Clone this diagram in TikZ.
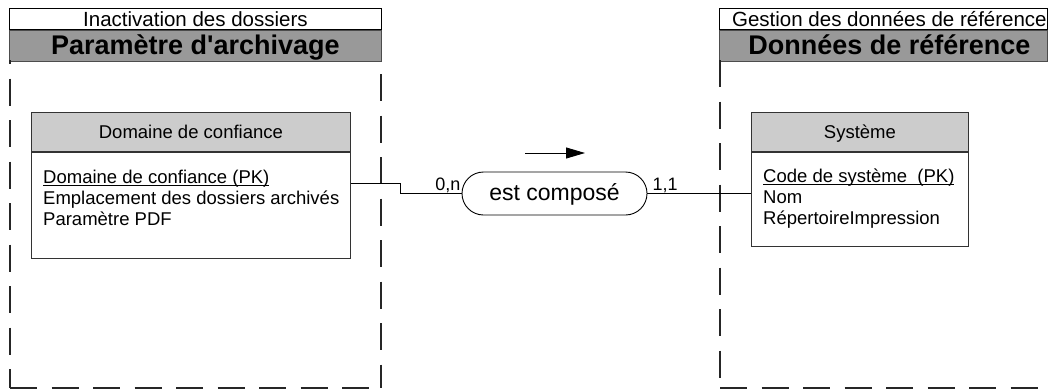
\documentclass[tikz,border=0pt]{standalone}
\usepackage{fontspec}
\setmainfont{Liberation Sans}[Ligatures=TeXOff]
\usetikzlibrary{arrows.meta}
\usetikzlibrary{positioning}
\definecolor{bandgray}{RGB}{153,153,153}
\definecolor{headgray}{RGB}{204,204,204}
\newcommand{\keyattr}[1]{\setbox0\hbox{#1}\rlap{\rule[-2.5pt]{\wd0}{0.9pt}}\box0}
\tikzstyle{pkgtitle} = [draw=black, fill=white, line width=0.8pt, inner sep=0pt,
    text height=15pt, text depth=0pt, font=\fontsize{20.5}{24}\selectfont]
\tikzstyle{pkgband} = [draw=black!70, fill=bandgray, line width=0.8pt, inner sep=0pt,
    text height=17pt, text depth=0pt, font=\fontsize{27}{30}\selectfont\bfseries]
\tikzstyle{pkgframe} = [line width=1.4pt, black!85, dash pattern=on 27pt off 14.5pt]
\tikzstyle{enthead} = [draw=black!80, fill=headgray, line width=0.8pt, inner sep=0pt,
    text height=13pt, text depth=0pt, font=\fontsize{18.5}{21}\selectfont]
\tikzstyle{entbody} = [draw=black!80, fill=white, line width=0.8pt, inner sep=0pt]
\tikzstyle{attr} = [inner sep=0pt, anchor=base west, font=\fontsize{18.5}{21}\selectfont]
\tikzstyle{assoc} = [draw=black, line width=0.9pt, rounded corners=21.5pt, inner sep=0pt,
    minimum width=185pt, minimum height=43pt, text height=13pt, text depth=0pt,
    font=\fontsize{23}{26}\selectfont]
\tikzstyle{card} = [inner sep=0pt, font=\fontsize{18}{21}\selectfont]
\tikzstyle{link} = [line width=0.8pt]
\tikzstyle{dirarrow} = [line width=0.9pt, -{Triangle[length=19pt,width=11pt]}]

\begin{document}
\begin{tikzpicture}[x=1pt,y=-1pt]
\useasboundingbox (0,0) rectangle (1050,391);

% package Parametre d'archivage
\node[pkgtitle, minimum width=372pt, minimum height=21pt, anchor=north west] (archtitle) at (9,8) {Inactivation des dossiers};
\node[pkgband, minimum width=372pt, minimum height=31pt, anchor=north west] (archband) at (archtitle.south west) {Param\`etre d'archivage};
\draw[pkgframe, dash phase=23pt] (10,60) -- (10,388);
\draw[pkgframe] (10,388) -- (381,388);
\draw[pkgframe, dash phase=27.5pt] (381,60) -- (381,388);

% package Donnees de reference
\node[pkgtitle, minimum width=328pt, minimum height=21pt, anchor=north west] (reftitle) at (719,8) {\hspace*{12pt}Gestion des donn\'ees de r\'ef\'erence};
\node[pkgband, minimum width=328pt, minimum height=31pt, anchor=north west] (refband) at (reftitle.south west) {\hspace*{12pt}Donn\'ees de r\'ef\'erence};
\draw[pkgframe] (720,60) -- (720,388);
\draw[pkgframe] (720,388) -- (1050,388);

% entite Domaine de confiance
\node[enthead, minimum width=319pt, minimum height=39pt, anchor=north west] (domhead) at (31,112) {Domaine de confiance};
\node[entbody, minimum width=319pt, minimum height=106pt, anchor=north west] (dombody) at (domhead.south west) {};
\node[attr] (dompk) at ([xshift=12pt,yshift=-32pt]dombody.north west) {\keyattr{Domaine de confiance (PK)}};
\node[attr] (domloc) at ([yshift=-21pt]dompk.base west) {Emplacement des dossiers archiv\'es};
\node[attr] (dompdf) at ([yshift=-21pt]domloc.base west) {Param\`etre PDF};

% entite Systeme
\node[enthead, minimum width=217pt, minimum height=39pt, anchor=north west] (syshead) at (751,112) {Syst\`eme};
\node[entbody, minimum width=217pt, minimum height=94pt, anchor=north west] (sysbody) at (syshead.south west) {};
\node[attr] (syspk) at ([xshift=12pt,yshift=-31pt]sysbody.north west) {\keyattr{Code de syst\`eme\ \ (PK)}};
\node[attr] (sysnom) at ([yshift=-21pt]syspk.base west) {Nom};
\node[attr] (sysrep) at ([yshift=-21pt]sysnom.base west) {R\'epertoireImpression};

% association
\node[assoc] (estcomp) at (554.5,193.5) {est compos\'e};
\node[card, anchor=base east] (cardleft) at ([xshift=-1pt,yshift=3.5pt]estcomp.west) {0,n};
\node[card, anchor=base west] (cardright) at ([xshift=5pt,yshift=3.5pt]estcomp.east) {1,1};

\draw[link] ([yshift=-32pt]dombody.north east) -- ++(50,0) |- (estcomp.west);
\draw[link] (estcomp.east) -- (estcomp.east -| sysbody.west);

\coordinate (dirtail) at (525,153);
\coordinate (dirtip) at (585,153);
\draw[dirarrow] (dirtail) -- (dirtip);

\end{tikzpicture}
\end{document}
